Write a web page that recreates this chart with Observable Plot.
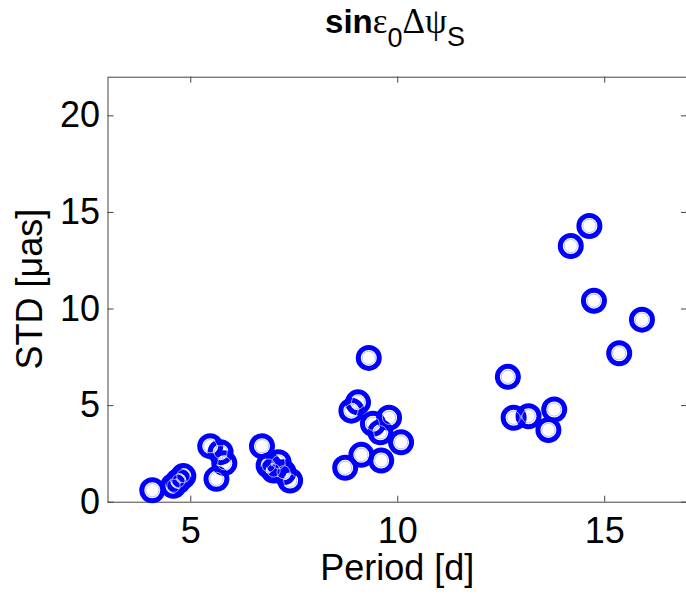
<!DOCTYPE html>
<html>
<head>
<meta charset="utf-8">
<script src="https://cdn.jsdelivr.net/npm/d3@7"></script>
<script src="https://cdn.jsdelivr.net/npm/@observablehq/plot@0.6"></script>
<style>
  html, body { margin: 0; padding: 0; background: #fff; overflow: hidden; }
  #chart { width: 686px; height: 595px; }
</style>
</head>
<body>
<div id="chart"></div>
<script>
// ---- data ----
const period = [4.07, 4.58, 4.70, 4.82, 5.47, 5.72, 5.81, 5.62, 6.72, 6.88, 7.12, 7.00, 7.24, 7.40,
                8.73, 8.88, 9.04, 9.12, 9.30, 9.40, 9.58, 9.60, 9.79, 10.08,
                12.66, 12.80, 13.16, 13.64, 13.78, 14.18, 14.63, 14.74, 15.35, 15.90];
const stdUas = [0.62, 0.85, 1.10, 1.35, 2.90, 2.59, 2.02, 1.21, 2.90, 1.90, 2.07, 1.64, 1.55, 1.12,
                1.78, 4.74, 5.17, 2.45, 7.47, 4.06, 3.62, 2.16, 4.37, 3.10,
                6.49, 4.37, 4.45, 3.74, 4.80, 13.26, 14.30, 10.43, 7.71, 9.45];
const xDomain = [3, 17];
const yDomain = [0, 22];
const xTicks = [5, 10, 15];
const yTicks = [0, 5, 10, 15, 20];
const xLabel = "Period [d]";
const yLabel = "STD [μas]";

const data = period.map((p, i) => ({period: p, std: stdUas[i]}));

const W = 686, H = 595;
const mL = 107.5, mR = -1, mT = 76.7, mB = 93.3;
const pxPerX = (W - mR - mL) / (xDomain[1] - xDomain[0]);
const pxPerY = (H - mB - mT) / (yDomain[1] - yDomain[0]);
const tickLen = 6;
const tx = tickLen / pxPerX, ty = tickLen / pxPerY;
const axisColor = "#444";
const font = "'Liberation Sans', Arial, Helvetica, sans-serif";

const chart = Plot.plot({
  width: W, height: H,
  marginLeft: mL, marginRight: mR, marginTop: mT, marginBottom: mB,
  style: {fontFamily: font, fontSize: "36px", background: "#fff", color: "#000"},
  x: {domain: xDomain},
  y: {domain: yDomain},
  marks: [
    Plot.frame({stroke: axisColor, strokeWidth: 1}),
    Plot.axisX(xTicks, {tickSize: 0, tickPadding: 15, label: null, fontSize: 36, fill: "#000"}),
    Plot.axisY(yTicks, {tickSize: 0, tickPadding: 8, label: null, fontSize: 36, fill: "#000"}),
    Plot.ruleX(xTicks, {x: d => d, y1: yDomain[0], y2: yDomain[0] + ty, stroke: axisColor}),
    Plot.ruleX(xTicks, {x: d => d, y1: yDomain[1], y2: yDomain[1] - ty, stroke: axisColor}),
    Plot.ruleY(yTicks, {y: d => d, x1: xDomain[0], x2: xDomain[0] + tx, stroke: axisColor}),
    Plot.ruleY(yTicks, {y: d => d, x1: xDomain[1], x2: xDomain[1] - tx, stroke: axisColor}),
    Plot.dot(data, {x: "period", y: "std", r: 10.5, stroke: "#0000ff", strokeWidth: 5, fill: "none"}),
    Plot.dot(data, {x: "period", y: "std", r: 6.6, stroke: "#b4b4ff", strokeWidth: 0.9, fill: "none"})
  ]
});

const svg = d3.select(chart);
// title
const t = svg.append("text")
  .attr("x", 395).attr("y", 33)
  .attr("text-anchor", "middle")
  .attr("fill", "#000")
  .style("font-family", font);
t.append("tspan").text("sin").style("font-weight", "bold").style("font-size", "33px");
t.append("tspan").text("ε").style("font-family", "'Liberation Serif', serif").style("font-size", "35px");
t.append("tspan").text("0").attr("dy", 14).style("font-size", "27px");
t.append("tspan").text("Δψ").attr("dy", -14).style("font-family", "'Liberation Serif', serif").style("font-size", "35px");
t.append("tspan").text("S").attr("dy", 13).style("font-size", "27px");

// y label
svg.append("text")
  .attr("transform", `translate(42, ${(mT + (H - mB)) / 2}) rotate(-90)`)
  .attr("text-anchor", "middle")
  .attr("fill", "#000")
  .style("font-family", font).style("font-size", "36px")
  .text(yLabel);

// x label
svg.append("text")
  .attr("x", (mL + (W - mR)) / 2).attr("y", 580)
  .attr("text-anchor", "middle")
  .attr("fill", "#000")
  .style("font-family", font).style("font-size", "36px")
  .text(xLabel);

document.getElementById("chart").appendChild(chart);
</script>
</body>
</html>
